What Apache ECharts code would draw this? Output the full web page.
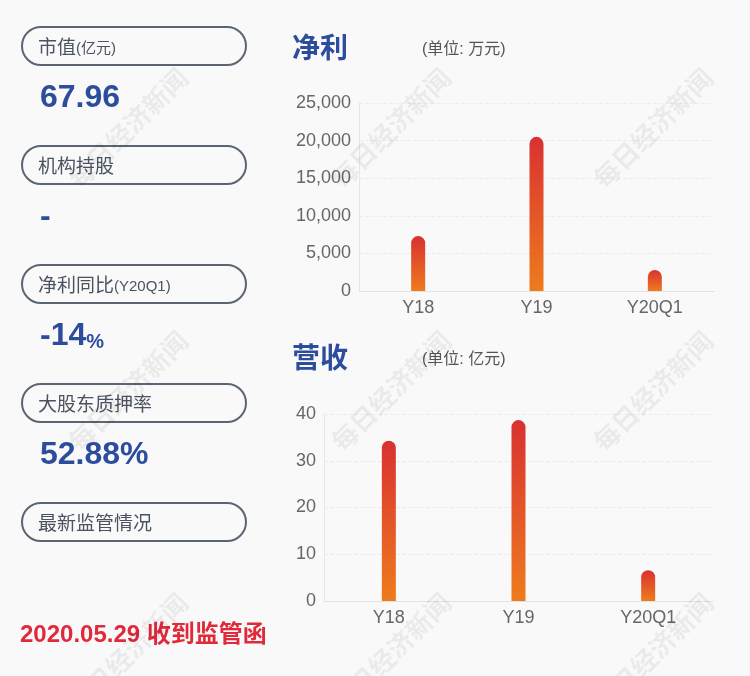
<!DOCTYPE html>
<html><head><meta charset="utf-8">
<script src="https://cdn.jsdelivr.net/npm/echarts@6/dist/echarts.min.js"></script>
<style>html,body{margin:0;padding:0;background:#f9f9f9;}#c{width:750px;height:676px;}</style>
</head><body><div id="c"></div>
<script>
var categories = ['Y18', 'Y19', 'Y20Q1'];
var profitValues = [7300, 20500, 2800];
var revenueValues = [34.3, 38.7, 6.6];
var profitTicks = { max: 25000, interval: 5000 };
var revenueTicks = { max: 40, interval: 10 };
var panelLabels = ['市值', '机构持股', '净利同比', '大股东质押率', '最新监管情况'];
var panelLabelSuffix = ['(亿元)', '', '(Y20Q1)', '', ''];
var panelValues = ['67.96', '-', '-14', '52.88%', ''];
var noticeText = '2020.05.29 收到监管函';

var FONT = '"Liberation Sans", "Noto Sans CJK SC", sans-serif';
var chart = echarts.init(document.getElementById('c'));
var grad = new echarts.graphic.LinearGradient(0, 0, 0, 1, [
  { offset: 0, color: '#d93131' }, { offset: 1, color: '#ee7b1d' }]);

var graphics = [];
[130, 393, 655].forEach(function (x) {
  [130, 393, 655].forEach(function (y) {
    graphics.push({ type: 'text', x: x, y: y, rotation: Math.PI / 4, z: 100,
      style: { text: '每日经济新闻', fill: 'rgba(0,0,0,0.06)', font: 'bold 26px ' + FONT,
        align: 'center', verticalAlign: 'middle' } });
  });
});
panelLabels.forEach(function (lab, i) {
  var top = 27 + i * 119;
  graphics.push({ type: 'rect', shape: { x: 22, y: top, width: 224, height: 38, r: 19 },
    style: { fill: 'none', stroke: '#5b6573', lineWidth: 2 } });
  graphics.push({ type: 'text', x: 38, y: top + 22,
    style: { rich: { a: { font: '19px ' + FONT, fill: '#4b5361', verticalAlign: 'middle' }, b: { font: '15px ' + FONT, fill: '#4b5361', verticalAlign: 'middle' } },
      text: '{a|' + lab + '}' + (panelLabelSuffix[i] ? '{b|' + panelLabelSuffix[i] + '}' : ''),
      verticalAlign: 'middle' } });
  if (panelValues[i]) {
    var t = panelValues[i] === '-14' ? '{v|-14}{p|%}' : '{v|' + panelValues[i] + '}';
    graphics.push({ type: 'text', x: 40, y: top + 71,
      style: { rich: { v: { font: 'bold 32px ' + FONT, fill: '#2c4c9c', verticalAlign: 'bottom' }, p: { font: 'bold 20px ' + FONT, fill: '#2c4c9c', verticalAlign: 'bottom' } },
        text: t, verticalAlign: 'middle' } });
  }
});
graphics.push({ type: 'text', x: 20, y: 635, style: { text: noticeText, font: 'bold 24px ' + FONT, fill: '#e0293a', verticalAlign: 'middle' } });
graphics.push({ type: 'text', x: 292, y: 50, style: { text: '净利', font: 'bold 28px ' + FONT, fill: '#2c4c9c', verticalAlign: 'middle' } });
graphics.push({ type: 'text', x: 422, y: 50, style: { text: '(单位: 万元)', font: '16px ' + FONT, fill: '#555', verticalAlign: 'middle' } });
graphics.push({ type: 'text', x: 292, y: 360, style: { text: '营收', font: 'bold 28px ' + FONT, fill: '#2c4c9c', verticalAlign: 'middle' } });
graphics.push({ type: 'text', x: 422, y: 360, style: { text: '(单位: 亿元)', font: '16px ' + FONT, fill: '#555', verticalAlign: 'middle' } });

function yAxis(idx, t) {
  return { type: 'value', gridIndex: idx, min: 0, max: t.max, interval: t.interval,
    axisLine: { show: true, lineStyle: { color: '#e6e6e6' } }, axisTick: { show: false },
    axisLabel: { color: '#666', fontSize: 18, fontFamily: FONT, margin: 8 },
    splitLine: { lineStyle: { color: '#ececec', type: 'dashed' } } };
}
function xAxis(idx) {
  return { type: 'category', gridIndex: idx, data: categories,
    axisLine: { lineStyle: { color: '#e2e2e2' } }, axisTick: { show: false },
    axisLabel: { color: '#666', fontSize: 18, fontFamily: FONT, margin: 8 } };
}
chart.setOption({
  backgroundColor: '#f9f9f9',
  animation: false,
  grid: [
    { left: 359, right: 36, top: 103, bottom: 385 },
    { left: 324, right: 37, top: 414, bottom: 75 }
  ],
  xAxis: [xAxis(0), xAxis(1)],
  yAxis: [yAxis(0, profitTicks), yAxis(1, revenueTicks)],
  series: [
    { type: 'bar', xAxisIndex: 0, yAxisIndex: 0, data: profitValues, barWidth: 14,
      itemStyle: { color: grad, borderRadius: [7, 7, 0, 0] } },
    { type: 'bar', xAxisIndex: 1, yAxisIndex: 1, data: revenueValues, barWidth: 14,
      itemStyle: { color: grad, borderRadius: [7, 7, 0, 0] } }
  ],
  graphic: graphics
});
</script></body></html>
